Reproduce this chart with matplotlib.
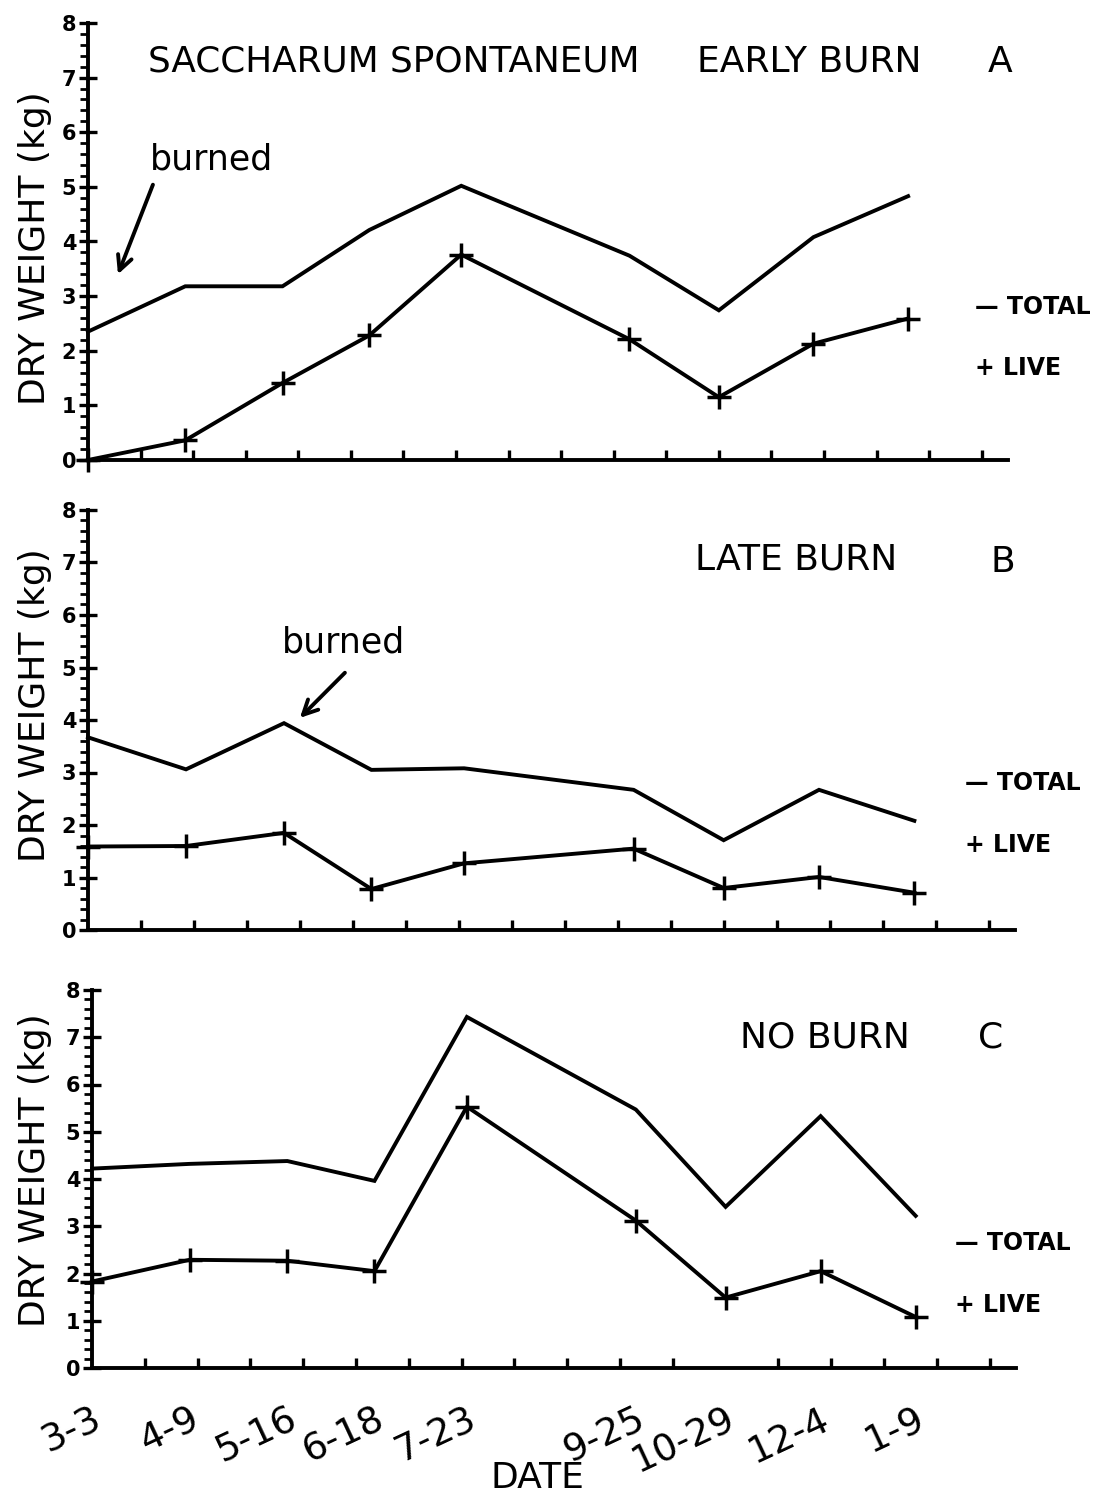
import matplotlib
matplotlib.use("Agg")
import matplotlib.pyplot as plt
import numpy as np

plt.rcParams['font.family'] = ['DejaVu Sans']

# Sampling dates and days elapsed since 3-3
dates = ["3-3", "4-9", "5-16", "6-18", "7-23", "9-25", "10-29", "12-4", "1-9"]
days = [0, 37, 74, 107, 142, 206, 240, 276, 312]

# Panel A: early burn
early_total = [2.35, 3.18, 3.18, 4.21, 5.02, 3.74, 2.74, 4.08, 4.83]
early_live = [0.0, 0.36, 1.41, 2.28, 3.76, 2.21, 1.15, 2.13, 2.59]

# Panel B: late burn
late_total = [3.67, 3.06, 3.94, 3.05, 3.08, 2.67, 1.71, 2.67, 2.08]
late_live = [1.59, 1.60, 1.85, 0.78, 1.27, 1.55, 0.80, 1.01, 0.71]

# Panel C: no burn
no_total = [4.22, 4.32, 4.38, 3.96, 7.43, 5.47, 3.41, 5.33, 3.22]
no_live = [1.83, 2.29, 2.27, 2.05, 5.53, 3.12, 1.49, 2.05, 1.08]

W, H = 1100, 1499
fig = plt.figure(figsize=(W / 100, H / 100), dpi=100)


def box(l, r, top, bot):
    return [l / W, 1 - bot / H, (r - l) / W, (bot - top) / H]


panels = [
    dict(rect=box(88, 1008, 23, 460), total=early_total, live=early_live),
    dict(rect=box(88, 1015, 510, 930), total=late_total, live=late_live),
    dict(rect=box(92, 1016, 990, 1368), total=no_total, live=no_live),
]

axes = []
for i, p in enumerate(panels):
    ax = fig.add_axes(p['rect'])
    axes.append(ax)
    ax.plot(days, p['total'], color='black', lw=2.8, clip_on=False,
            solid_joinstyle='miter')
    ax.plot(days, p['live'], color='black', lw=2.8, marker='+', ms=17,
            mew=2.5, clip_on=False)
    ax.set_xlim(0, 350)
    ax.set_ylim(0, 8)
    for s in ['top', 'right']:
        ax.spines[s].set_visible(False)
    for s in ['left', 'bottom']:
        ax.spines[s].set_linewidth(2.8)
    ax.set_yticks(range(0, 9))
    ax.set_yticks(np.arange(0, 8.01, 0.2), minor=True)
    ax.tick_params(axis='y', which='major', direction='inout', length=13,
                   width=2.4, labelsize=15, pad=2)
    ax.tick_params(axis='y', which='minor', direction='out', length=6,
                   width=2.0)
    for lab in ax.get_yticklabels():
        lab.set_fontweight('bold')
    ax.set_xticks(np.arange(20, 341, 20), minor=True)
    ax.tick_params(axis='x', which='minor', direction='in', length=7,
                   width=2.4)
    if i < 2:
        ax.set_xticks([])
    else:
        ax.set_xticks(days)
        ax.set_xticklabels(dates, rotation=25, ha='right',
                           rotation_mode='anchor', fontsize=27)
        ax.tick_params(axis='x', which='major', length=0, pad=24)
    ax.patch.set_alpha(0)

# y-axis labels
for yc in [248, 705, 1170]:
    fig.text(35 / W, 1 - yc / H, "DRY WEIGHT (kg)", rotation=90,
             ha='center', va='center', fontsize=26)

# panel titles
fig.text(148 / W, 1 - 62 / H, "SACCHARUM SPONTANEUM", ha='left',
         va='center', fontsize=25.8)
fig.text(697 / W, 1 - 62 / H, "EARLY BURN", ha='left', va='center',
         fontsize=26)
fig.text(1000 / W, 1 - 62 / H, "A", ha='center', va='center', fontsize=26)
fig.text(695 / W, 1 - 560 / H, "LATE BURN", ha='left', va='center',
         fontsize=26)
fig.text(1003 / W, 1 - 562 / H, "B", ha='center', va='center', fontsize=26)
fig.text(740 / W, 1 - 1037 / H, "NO BURN", ha='left', va='center',
         fontsize=26)
fig.text(991 / W, 1 - 1037 / H, "C", ha='center', va='center', fontsize=26)

# legends
for (xl, yt, yl) in [(975, 307, 368), (965, 783, 845), (955, 1243, 1305)]:
    fig.text(xl / W, 1 - yt / H, "— TOTAL", ha='left', va='center',
             fontsize=17, fontweight='bold')
    fig.text(xl / W, 1 - yl / H, "+ LIVE", ha='left', va='center',
             fontsize=17, fontweight='bold')

# burned annotations
arrow = dict(arrowstyle='->', lw=2.8, color='black', mutation_scale=26,
             shrinkA=0, shrinkB=0)
axes[0].text(47, 5.5, "burned", ha='center', va='center', fontsize=25)
axes[0].annotate("", xy=(11.4, 3.4), xytext=(24.7, 5.04), arrowprops=arrow)
axes[1].text(96.5, 5.47, "burned", ha='center', va='center', fontsize=25)
axes[1].annotate("", xy=(80, 4.04), xytext=(97, 4.9), arrowprops=arrow)

fig.text(537 / W, 1 - 1478 / H, "DATE", ha='center', va='center',
         fontsize=26)

fig.savefig("out.png", dpi=100, facecolor='white')
